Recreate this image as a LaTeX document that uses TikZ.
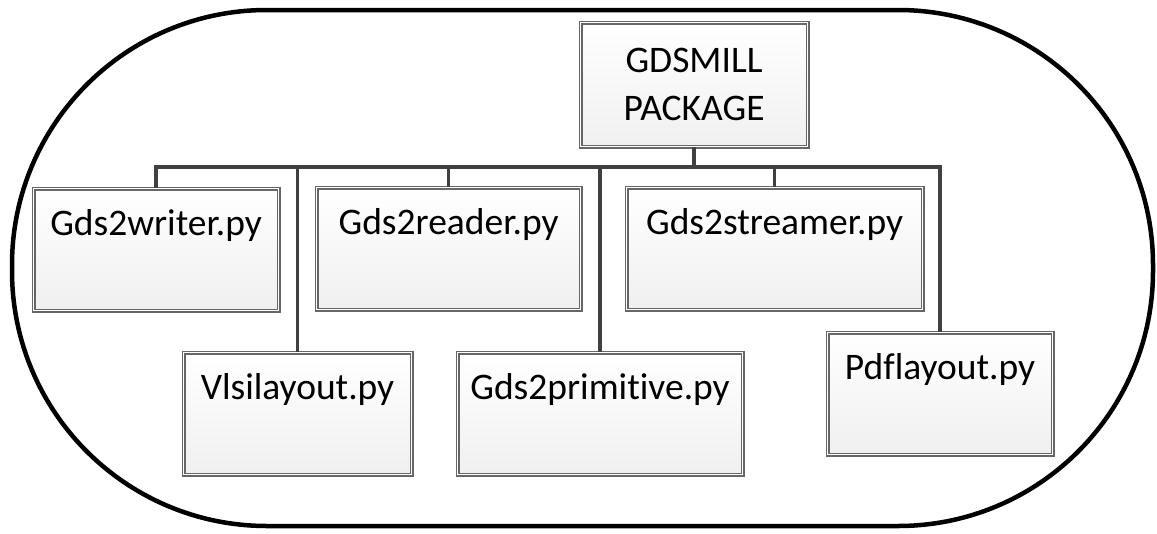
\documentclass[tikz,border=0pt]{standalone}
\usepackage{fontspec}
\setmainfont{Carlito}[Ligatures=NoCommon]
\usetikzlibrary{shadows}
\tikzset{
  boxbase/.style={draw=black!60, line width=1.1pt, double=white, double distance=1.8pt,
    top color=white, bottom color=black!6, anchor=north west, inner sep=0pt,
    drop shadow={opacity=0.1, shadow xshift=2pt, shadow yshift=-2pt}},
  filebox/.style={boxbase, text height=47pt, text depth=75pt},
  pkgbox/.style={boxbase, align=center, minimum width=227pt, minimum height=124pt},
  conn/.style={draw=black!75, line width=3.4pt}
}
\begin{document}
\begin{tikzpicture}[x=1pt, y=-1pt]
  \useasboundingbox (0,0) rectangle (1157,533);
  {\fontsize{37.5}{48}\selectfont

  % Drawing outer frame
  \draw [line width=4.5pt, rounded corners=255pt] (12.000000,10.000000) rectangle (1153.000000,526.000000);%

  % Marking package box
  \node [pkgbox] (pkg) at (580.000000,22.000000) {GDSMILL\\PACKAGE};%

  % Marking file boxes, top row
  \node [filebox, minimum width=245pt] (writer) at (33.000000,188.000000) {Gds2writer.py};%
  \node [filebox, minimum width=264pt] (reader) at (316.000000,187.000000) {Gds2reader.py};%
  \node [filebox, minimum width=296pt] (streamer) at (626.000000,187.000000) {Gds2streamer.py};%

  % Marking file boxes, bottom row
  \node [filebox, minimum width=228pt] (vlsi) at (183.000000,352.000000) {Vlsilayout.py};%
  \node [filebox, minimum width=285pt] (primitive) at (457.000000,352.000000) {Gds2primitive.py};%
  \node [filebox, minimum width=225pt] (pdf) at (827.000000,332.000000) {Pdflayout.py};%

  % Drawing connectors package -> files
  \foreach \f in {writer,vlsi,reader,primitive,streamer,pdf}
    \draw [conn] (pkg.south) -- ++(0,20) -| (\f.north);%
  }
\end{tikzpicture}
\end{document}
